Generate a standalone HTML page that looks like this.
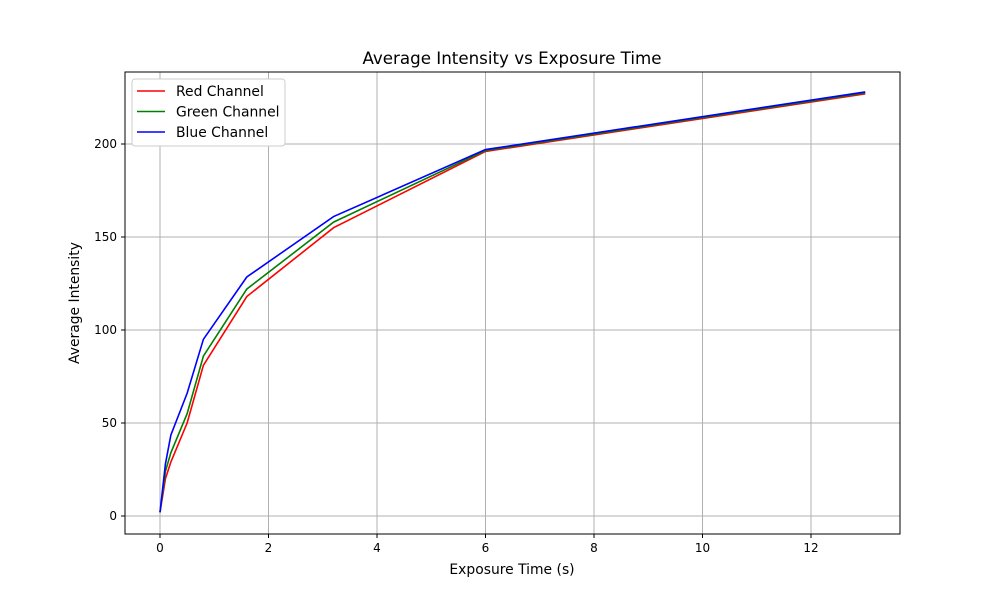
<!DOCTYPE html>
<html><head><meta charset="utf-8"><style>body{margin:0;background:#fff}svg text{font-family:"DejaVu Sans","Liberation Sans",sans-serif}</style></head>
<body>
<svg id="c" width="1000" height="600"></svg>
<script>
const exposure=[0,0.1,0.2,0.5,0.8,1.6,3.2,6,13];
const redVals=[2,20,29,50,81,118,155,196,227];
const greenVals=[2,24,34,55,86,122,158,196.5,227.5];
const blueVals=[2,28,43.5,66,95,128.5,161,197,228];
const xTicks=[0,2,4,6,8,10,12];
const yTicks=[0,50,100,150,200];
const L=125,R=900,T=72,B=534;
const sx=v=>160+v*54.25, sy=v=>516-v*1.86;
const s=document.getElementById('c');const NS='http://www.w3.org/2000/svg';
function mk(t,a,p){const e=document.createElementNS(NS,t);for(const k in a)e.setAttribute(k,a[k]);(p||s).appendChild(e);return e;}
let e;
e=mk('text',{x:512,y:64,'font-size':16.7,'text-anchor':'middle'});e.textContent='Average Intensity vs Exposure Time';


xTicks.forEach(v=>{const x=sx(v);
e=mk('line',{x1:x,x2:x,y1:T,y2:B,stroke:'#b0b0b0','stroke-width':1});


mk('line',{x1:x,x2:x,y1:B,y2:B+4,stroke:'#000'});
e=mk('text',{x:x,y:B+18,'font-size':12,'text-anchor':'middle'});e.textContent=v;

});
yTicks.forEach(v=>{const y=sy(v);
e=mk('line',{x1:L,x2:R,y1:y,y2:y,stroke:'#b0b0b0','stroke-width':1});


mk('line',{x1:L-4,x2:L,y1:y,y2:y,stroke:'#000'});
e=mk('text',{x:L-8,y:y+4,'font-size':12,'text-anchor':'end'});e.textContent=v;

});
const series=[['Red Channel',redVals,'#ff0000'],['Green Channel',greenVals,'#008000'],['Blue Channel',blueVals,'#0000ff']];
series.forEach(([n,vals,c])=>{
e=mk('polyline',{points:exposure.map((x,i)=>sx(x)+','+sy(vals[i])).join(' '),fill:'none',stroke:c,'stroke-width':1.6});

});
e=mk('rect',{x:L,y:T,width:R-L,height:B-T,fill:'none',stroke:'#000','stroke-width':1});


e=mk('text',{x:512,y:574,'font-size':13.9,'text-anchor':'middle'});e.textContent='Exposure Time (s)';


e=mk('text',{x:79,y:303,'font-size':13.9,'text-anchor':'middle',transform:'rotate(-90 79 303)'});e.textContent='Average Intensity';


const g=mk('g',{});


mk('rect',{x:132,y:79,width:153,height:67,rx:3,fill:'#fff',stroke:'#ccc'},g);
series.forEach(([n,vals,c],i)=>{const y=91+i*20.5;
mk('line',{x1:137,x2:165,y1:y,y2:y,stroke:c,'stroke-width':1.6},g);
e=mk('text',{x:176,y:y+5,'font-size':13.9},g);e.textContent=n;

});
</script>
</body></html>
